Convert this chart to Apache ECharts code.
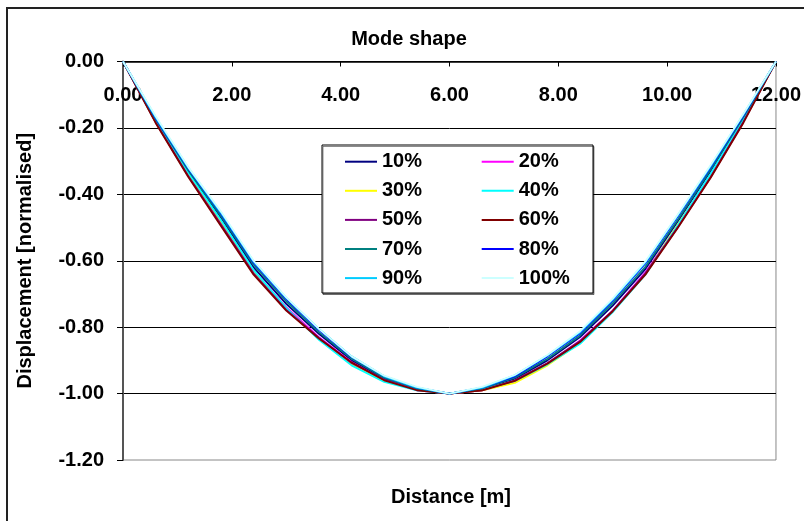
<!DOCTYPE html>
<html>
<head>
<meta charset="utf-8">
<script src="https://cdn.jsdelivr.net/npm/echarts@6/dist/echarts.min.js"></script>
<style>
  html, body { margin: 0; padding: 0; background: #fff; }
  #chart { width: 804px; height: 521px; }
</style>
</head>
<body>
<div id="chart"></div>
<script>
// Positions along the beam [m]
const distance = [0, 0.6, 1.2, 1.8, 2.4, 3.0, 3.6, 4.2, 4.8, 5.4, 6.0, 6.6, 7.2, 7.8, 8.4, 9.0, 9.6, 10.2, 10.8, 11.4, 12.0];

// Normalised displacement for each damage level
const mode10  = [0, -0.175, -0.330, -0.470, -0.620, -0.730, -0.820, -0.900, -0.955, -0.985, -1.00, -0.985, -0.955, -0.900, -0.830, -0.735, -0.625, -0.480, -0.330, -0.170, 0];
const mode20  = [0, -0.180, -0.340, -0.480, -0.630, -0.740, -0.830, -0.905, -0.960, -0.990, -1.00, -0.990, -0.965, -0.910, -0.840, -0.750, -0.635, -0.495, -0.340, -0.175, 0];
const mode30  = [0, -0.178, -0.338, -0.482, -0.632, -0.745, -0.835, -0.912, -0.962, -0.988, -1.00, -0.990, -0.968, -0.915, -0.848, -0.752, -0.640, -0.490, -0.342, -0.178, 0];
const mode40  = [0, -0.176, -0.335, -0.478, -0.628, -0.742, -0.838, -0.915, -0.965, -0.990, -1.00, -0.988, -0.962, -0.912, -0.850, -0.755, -0.642, -0.492, -0.338, -0.176, 0];
const mode50  = [0, -0.183, -0.345, -0.490, -0.638, -0.748, -0.832, -0.908, -0.958, -0.988, -1.00, -0.990, -0.960, -0.908, -0.842, -0.750, -0.638, -0.498, -0.348, -0.182, 0];
const mode60  = [0, -0.185, -0.348, -0.495, -0.642, -0.750, -0.834, -0.906, -0.960, -0.990, -1.00, -0.990, -0.962, -0.910, -0.845, -0.752, -0.642, -0.500, -0.350, -0.185, 0];
const mode70  = [0, -0.173, -0.328, -0.465, -0.612, -0.722, -0.815, -0.895, -0.952, -0.984, -1.00, -0.984, -0.952, -0.895, -0.825, -0.728, -0.618, -0.475, -0.325, -0.168, 0];
const mode80  = [0, -0.170, -0.322, -0.458, -0.605, -0.715, -0.808, -0.890, -0.948, -0.982, -1.00, -0.982, -0.948, -0.888, -0.818, -0.720, -0.608, -0.465, -0.318, -0.163, 0];
const mode90  = [0, -0.168, -0.320, -0.455, -0.602, -0.712, -0.805, -0.888, -0.948, -0.982, -1.00, -0.982, -0.945, -0.885, -0.815, -0.717, -0.605, -0.462, -0.315, -0.160, 0];
const mode100 = [0, -0.165, -0.318, -0.452, -0.600, -0.710, -0.805, -0.888, -0.946, -0.980, -1.00, -0.980, -0.944, -0.884, -0.812, -0.714, -0.602, -0.460, -0.312, -0.158, 0];

const seriesNames = ['10%', '20%', '30%', '40%', '50%', '60%', '70%', '80%', '90%', '100%'];
const seriesValues = [mode10, mode20, mode30, mode40, mode50, mode60, mode70, mode80, mode90, mode100];
const seriesColors = ['#000080', '#FF00FF', '#FFFF00', '#00FFFF', '#800080', '#800000', '#008080', '#0000FF', '#00CCFF', '#CCFFFF'];

const FONT = 'Liberation Sans, Arial, sans-serif';

const chart = echarts.init(document.getElementById('chart'), null, { renderer: 'canvas' });

const series = seriesNames.map((name, k) => ({
  name,
  type: 'line',
  symbol: 'none',
  smooth: false,
  lineStyle: { color: seriesColors[k], width: 1.8 },
  itemStyle: { color: seriesColors[k] },
  data: distance.map((x, i) => [x, seriesValues[k][i]]),
  z: 3 + k
}));

// Two legend columns, each a plain line sample followed by its label
const legendCommon = {
  orient: 'vertical',
  z: 30,
  icon: 'rect',
  itemWidth: 32,
  itemHeight: 2,
  itemGap: 9.1,
  top: 151.7,
  padding: 0,
  textStyle: { fontFamily: FONT, fontWeight: 'bold', fontSize: 20, color: '#000', lineHeight: 20 }
};

chart.setOption({
  animation: false,
  backgroundColor: '#fff',
  title: {
    text: 'Mode shape',
    left: 409,
    top: 29,
    textAlign: 'center',
    padding: 0,
    textStyle: { fontFamily: FONT, fontWeight: 'bold', fontSize: 20, color: '#000' }
  },
  legend: [
    Object.assign({}, legendCommon, { left: 345, data: ['10%', '30%', '50%', '70%', '90%'] }),
    Object.assign({}, legendCommon, { left: 481.7, data: ['20%', '40%', '60%', '80%', '100%'] })
  ],
  grid: {
    left: 123, top: 61.5, right: 26, bottom: 61,
    show: true, borderColor: '#888', borderWidth: 1, backgroundColor: 'transparent'
  },
  xAxis: {
    type: 'value',
    position: 'top',
    min: 0, max: 12, interval: 2,
    axisLine: { show: true, onZero: false, lineStyle: { color: '#000', width: 1.5 } },
    axisTick: { show: true, inside: true, length: 5, lineStyle: { color: '#000' } },
    axisLabel: {
      inside: true, margin: 24,
      fontFamily: FONT, fontWeight: 'bold', fontSize: 20, color: '#000',
      showMinLabel: true, showMaxLabel: true,
      formatter: v => v.toFixed(2)
    },
    splitLine: { show: false }
  },
  yAxis: {
    type: 'value',
    min: -1.2, max: 0, interval: 0.2,
    name: 'Displacement [normalised]',
    nameLocation: 'middle',
    nameRotate: 90,
    nameGap: 88,
    nameTextStyle: { fontFamily: FONT, fontWeight: 'bold', fontSize: 20, color: '#000' },
    axisLine: { show: true, onZero: false, lineStyle: { color: '#555', width: 2 } },
    axisTick: { show: true, length: 6, lineStyle: { color: '#000' } },
    axisLabel: {
      margin: 19,
      fontFamily: FONT, fontWeight: 'bold', fontSize: 20, color: '#000',
      formatter: v => v.toFixed(2)
    },
    splitLine: { show: true, showMinLine: false, lineStyle: { color: '#000', width: 1 } }
  },
  graphic: [
    {
      type: 'rect', z: 0, silent: true,
      shape: { x: 7, y: 8, width: 830, height: 560 },
      style: { fill: 'transparent', stroke: '#222', lineWidth: 2 }
    },
    {
      type: 'rect', z: 20, silent: true,
      shape: { x: 322, y: 145, width: 271, height: 148 },
      style: { fill: '#fff', stroke: '#000', lineWidth: 1, shadowColor: 'rgba(0,0,0,0.45)', shadowOffsetX: 1, shadowOffsetY: 1.5, shadowBlur: 0 }
    },
    {
      type: 'text', z: 20, silent: true,
      x: 451, y: 497,
      style: {
        text: 'Distance [m]', align: 'center', verticalAlign: 'middle',
        font: 'bold 20px ' + FONT, fill: '#000'
      }
    }
  ],
  series
});
</script>
</body>
</html>
